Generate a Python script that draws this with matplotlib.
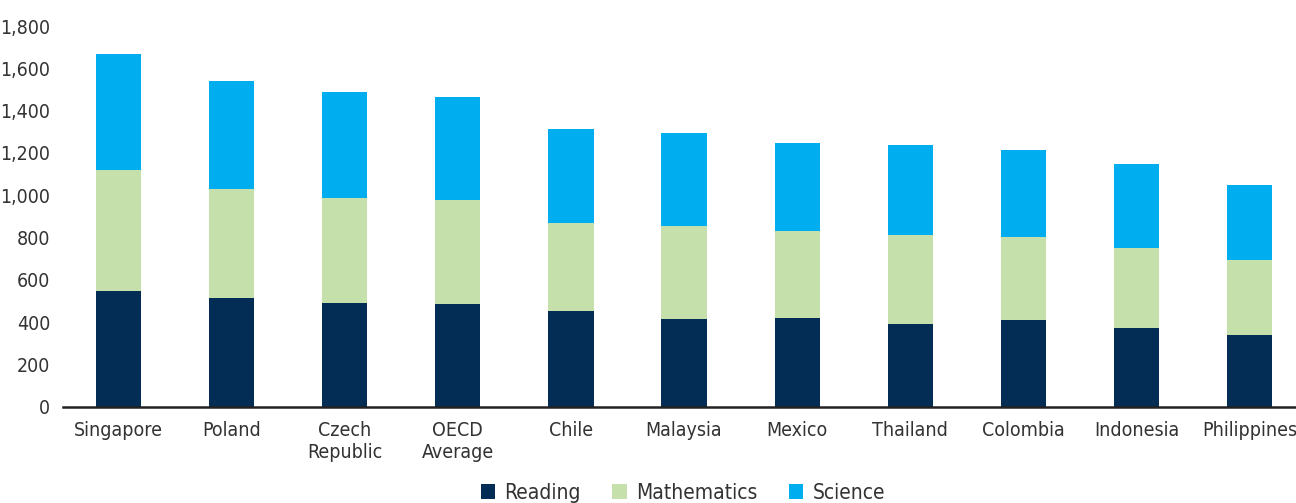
import matplotlib.pyplot as plt
import numpy as np
from matplotlib.ticker import FuncFormatter

countries = ['Singapore', 'Poland', 'Czech\nRepublic', 'OECD\nAverage', 'Chile', 'Malaysia',
             'Mexico', 'Thailand', 'Colombia', 'Indonesia', 'Philippines']
reading = [549, 512, 490, 487, 452, 415, 420, 393, 412, 371, 340]
mathematics = [569, 516, 499, 489, 417, 440, 409, 419, 391, 379, 353]
science = [551, 511, 497, 489, 444, 438, 419, 426, 413, 396, 357]

c_read = '#032d54'
c_math = '#c6e0ab'
c_sci = '#00aeef'
txt = '#333333'

plt.rcParams['font.family'] = ['DejaVu Sans']
plt.rcParams['font.stretch'] = 'condensed'

fig = plt.figure(figsize=(12.96, 5.03), dpi=100)
ax = fig.add_axes([63 / 1296, 1 - 406.7 / 503, 1 - 63 / 1296, (406.7 - 26) / 503])

x = np.arange(len(countries))
r = np.array(reading)
m = np.array(mathematics)
s = np.array(science)
w = 0.4
ax.bar(x, r, w, color=c_read, label='Reading')
ax.bar(x, m, w, bottom=r, color=c_math, label='Mathematics')
ax.bar(x, s, w, bottom=r + m, color=c_sci, label='Science')

ax.set_xlim(-0.49, 10.41)
ax.set_ylim(0, 1800)
ax.set_yticks(range(0, 1801, 200))
ax.yaxis.set_major_formatter(FuncFormatter(lambda v, p: f'{int(v):,}'))
ax.set_xticks(x)
ax.set_xticklabels(countries, linespacing=1.25)
ax.tick_params(axis='both', length=0, labelsize=14, labelcolor=txt)
ax.tick_params(axis='x', pad=10)
ax.tick_params(axis='y', pad=9)

for sp in ['top', 'right', 'left']:
    ax.spines[sp].set_visible(False)
ax.spines['bottom'].set_color('#222222')
ax.spines['bottom'].set_linewidth(1.8)

leg = fig.legend(loc='center', bbox_to_anchor=(0.527, 0.02), ncol=3, frameon=False,
                 fontsize=15, handlelength=0.7, handleheight=0.7, handletextpad=0.45,
                 columnspacing=1.5)
for t in leg.get_texts():
    t.set_color(txt)

fig.savefig('out.png', dpi=100)
